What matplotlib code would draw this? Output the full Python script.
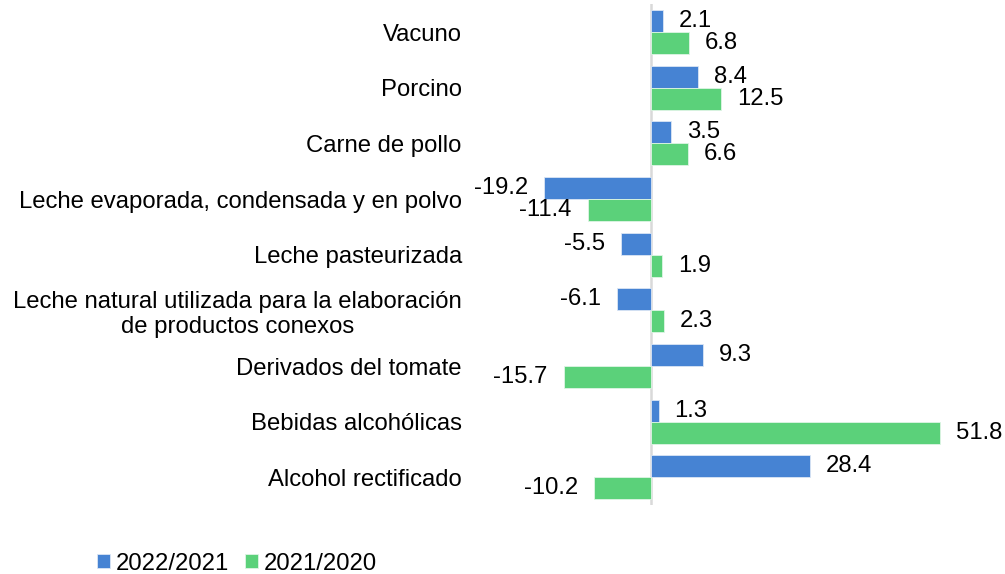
import matplotlib.pyplot as plt
import numpy as np

plt.rcParams['font.family'] = ['Liberation Sans', 'DejaVu Sans']

categories = [
    "Vacuno",
    "Porcino",
    "Carne de pollo",
    "Leche evaporada, condensada y en polvo",
    "Leche pasteurizada",
    "Leche natural utilizada para la elaboración\nde productos conexos",
    "Derivados del tomate",
    "Bebidas alcohólicas",
    "Alcohol rectificado",
]
var_2022_2021 = [2.1, 8.4, 3.5, -19.2, -5.5, -6.1, 9.3, 1.3, 28.4]
var_2021_2020 = [6.8, 12.5, 6.6, -11.4, 1.9, 2.3, -15.7, 51.8, -10.2]
series_names = ["2022/2021", "2021/2020"]

blue = "#4683d3"
green = "#5bd17a"
fs = 17.2

fig = plt.figure(figsize=(10.05, 5.74), dpi=100)
ax = fig.add_axes([0.4816, 0.1197, 0.4995, 0.8730])

y = np.arange(len(categories))
h = 0.395
b1 = ax.barh(y - h / 2, var_2022_2021, height=h, color=blue, edgecolor="#dbe6f5",
             linewidth=0.6, label=series_names[0])
b2 = ax.barh(y + h / 2, var_2021_2020, height=h, color=green, edgecolor="#dff5e5",
             linewidth=0.6, label=series_names[1])

# value labels just past the end of each bar
for bars, vals in ((b1, var_2022_2021), (b2, var_2021_2020)):
    for bar, v in zip(bars, vals):
        yc = bar.get_y() + bar.get_height() / 2
        off = 11.5 if v >= 0 else -11.5
        ax.annotate(f"{v:.1f}", (v, yc), xytext=(off, 0), textcoords="offset points",
                    ha="left" if v >= 0 else "right", va="center", fontsize=fs)

ax.set_xlim(-30, 60)
ax.set_ylim(len(categories) - 0.5, -0.5)
ax.axvline(0, color="#d9d9d9", linewidth=1.8, zorder=0)

ax.set_yticks(y)
ax.set_yticklabels(categories, fontsize=fs, multialignment="center")
ax.tick_params(axis="y", length=0, pad=16)
ax.set_xticks([])
for s in ax.spines.values():
    s.set_visible(False)

fig.legend(handles=[b1, b2], labels=series_names, loc="center left",
           bbox_to_anchor=(0.097, 0.018), ncol=2, frameon=False, fontsize=fs,
           handlelength=0.52, handleheight=0.52, handletextpad=0.25, columnspacing=0.68,
           borderaxespad=0, borderpad=0)

plt.savefig("out.png", dpi=100)
plt.close()
